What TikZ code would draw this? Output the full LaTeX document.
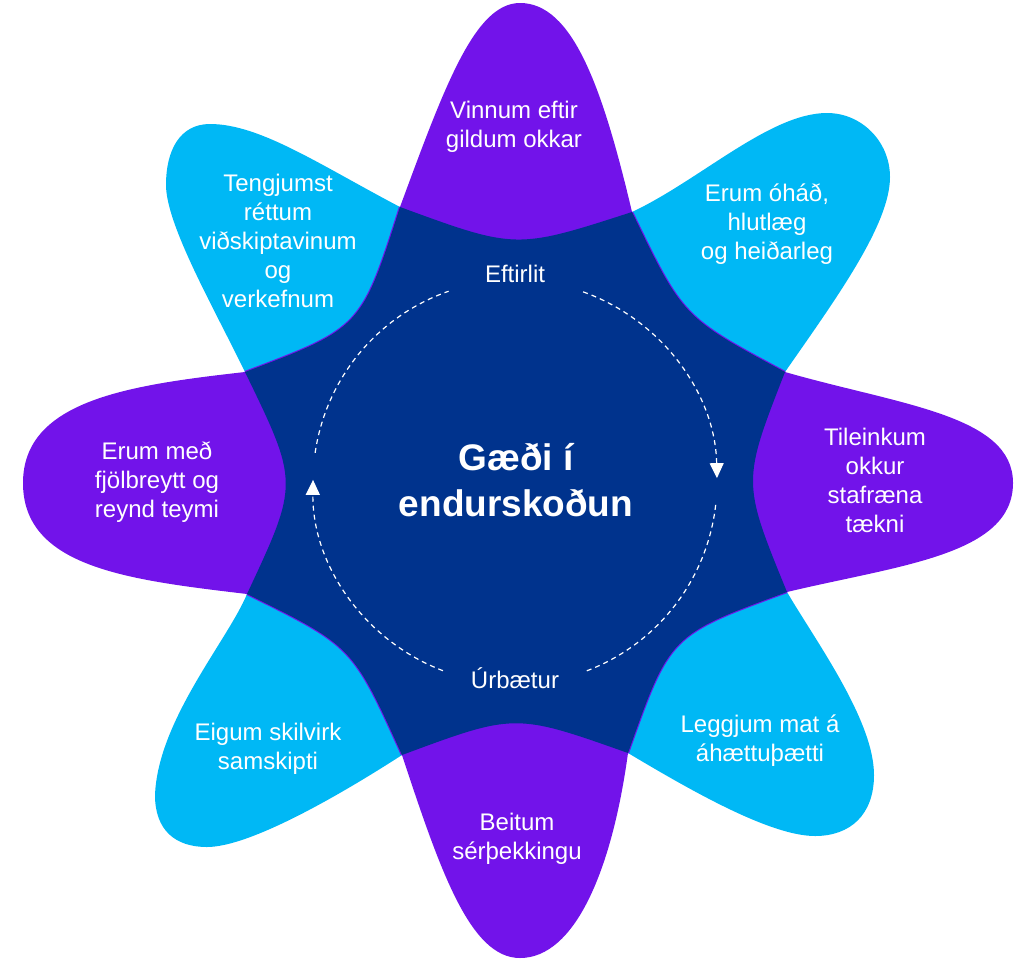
\documentclass[tikz,border=0pt]{standalone}
\usepackage{fontspec}
\setmainfont{Liberation Sans}
\usetikzlibrary{arrows.meta}
\definecolor{kpurple}{HTML}{7213EA}
\definecolor{klblue}{HTML}{00B8F5}
\definecolor{knavy}{HTML}{00338D}
\begin{document}
\begin{tikzpicture}[x=1pt,y=-1pt,
  petalP/.style={fill=kpurple},
  petalB/.style={fill=klblue},
  lbl/.style={text=white, align=center, inner sep=0pt, font=\fontsize{24}{29}\selectfont},
  cyc/.style={draw=white, line width=1.2pt, dash pattern=on 5pt off 4pt},
  tipstyle/.style={-{Triangle[width=14pt,length=15pt]}},
  edgeline/.style={draw=kpurple, line width=2.2pt}
]
\useasboundingbox (0,0) rectangle (1025,959);
\coordinate (C) at (516,482);
\coordinate (O) at (515,482);
\coordinate (k1) at (400,207);
\coordinate (k2) at (632,212);
\coordinate (k3) at (785,372);
\coordinate (k4) at (787,592);
\coordinate (k5) at (628,753);
\coordinate (k6) at (402,755);
\coordinate (k7) at (247,594);
\coordinate (k8) at (245,372);

% light blue petals
\fill[petalB] (C) -- (k1) .. controls (320,165) and (260,124) .. (210,124) .. controls (180,124) and (166,150) .. (166,185) .. controls (166,225) and (215,310) .. (k8) -- cycle;
\fill[petalB] (C) -- (k2) .. controls (700,180) and (770,113) .. (827,113) .. controls (862,113) and (890,142) .. (890,177) .. controls (890,225) and (835,300) .. (k3) -- cycle;
\fill[petalB] (C) -- (k4) .. controls (815,640) and (874,720) .. (874,775) .. controls (874,815) and (850,836) .. (815,836) .. controls (770,836) and (690,790) .. (k5) -- cycle;
\fill[petalB] (C) -- (k7) .. controls (228,640) and (158,720) .. (155,795) .. controls (155,830) and (175,847) .. (207,847) .. controls (250,847) and (340,795) .. (k6) -- cycle;

% purple petals
\fill[petalP] (C) -- (k1) .. controls (445,85) and (475,3) .. (520,3) .. controls (572,3) and (602,85) .. (k2) -- cycle;
\fill[petalP] (C) -- (k3) .. controls (900,405) and (1013,415) .. (1013,483) .. controls (1013,555) and (900,565) .. (k4) -- cycle;
\fill[petalP] (C) -- (k5) .. controls (612,870) and (575,958) .. (520,958) .. controls (470,958) and (440,870) .. (k6) -- cycle;
\fill[petalP] (C) -- (k7) .. controls (130,580) and (23,568) .. (23,483) .. controls (23,400) and (130,385) .. (k8) -- cycle;

% thin purple rims on the edges facing the light blue petals
\draw[edgeline] (k2) .. controls (682.9,317.3) .. (k3);
\draw[edgeline] (k4) .. controls (669.7,634.9) .. (k5);
\draw[edgeline] (k6) .. controls (352.7,646.1) .. (k7);
\draw[edgeline] (k8) .. controls (361.3,328.1) .. (k1);

% navy centre
\fill[knavy] (k1) .. controls (516,249.5) .. (k2) .. controls (682.9,317.3) .. (k3) .. controls (742,482) .. (k4) .. controls (669.7,634.9) .. (k5) .. controls (515,713) .. (k6) .. controls (352.7,646.1) .. (k7) .. controls (299,483) .. (k8) .. controls (361.3,328.1) .. (k1) -- cycle;

% dashed cycle
\draw[cyc, tipstyle] (O) ++(-70.3:202) arc[start angle=-70.3, end angle=-1.1, radius=202];
\draw[cyc] (O) ++(6.5:202) arc[start angle=6.5, end angle=69.8, radius=202];
\draw[cyc, tipstyle] (O) ++(-249.1:202) arc[start angle=-249.1, end angle=-179.4, radius=202];
\draw[cyc] (O) ++(-171.7:202) arc[start angle=-171.7, end angle=-109.2, radius=202];

% labels
\node[lbl] (t1) at (514,126.3) {Vinnum eftir\\gildum okkar};
\node[lbl] (t2) at (278,241.3) {Tengjumst\\réttum\\viðskiptavinum\\og\\verkefnum};
\node[lbl] (t3) at (767,224.5) {Erum óháð,\\hlutlæg\\og heiðarleg};
\node[lbl] (t4) at (875,480) {Tileinkum\\okkur\\stafræna\\tækni};
\node[lbl] (t5) at (760,741) {Leggjum mat á\\áhættuþætti};
\node[lbl] (t6) at (517,838.8) {Beitum\\sérþekkingu};
\node[lbl] (t7) at (268,748.8) {Eigum skilvirk\\samskipti};
\node[lbl] (t8) at (157,481.8) {Erum með\\fjölbreytt og\\reynd teymi};
\node[lbl, font=\bfseries\fontsize{37}{46}\selectfont] (ctr) at (516,480.3) {Gæði í\\endurskoðun};
\node[lbl, anchor=base] (ef) at (515,282) {Eftirlit};
\node[lbl, anchor=base] (ur) at (515,688) {Úrbætur};
\end{tikzpicture}
\end{document}
